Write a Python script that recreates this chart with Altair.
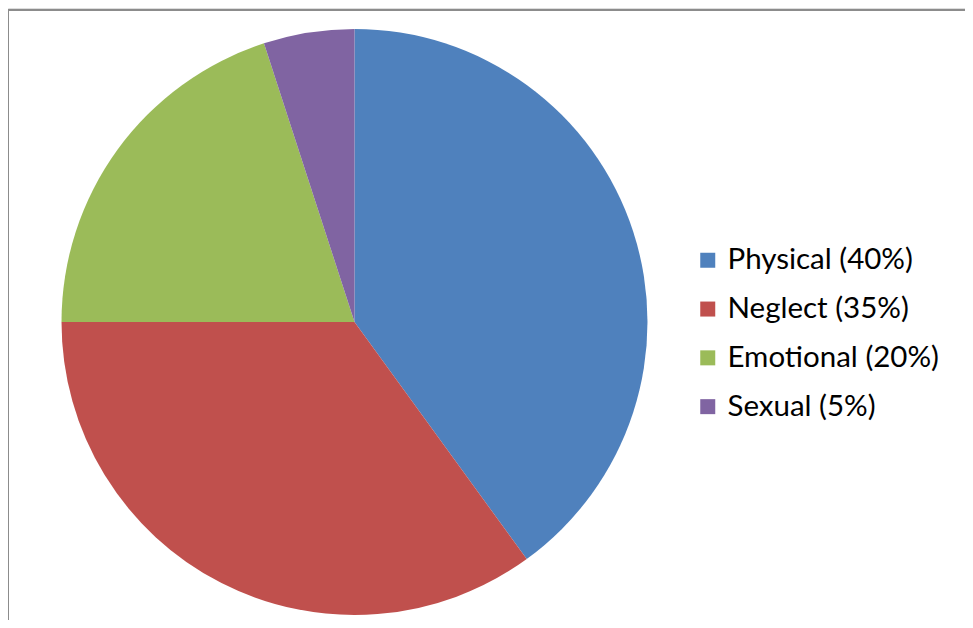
import altair as alt
import pandas as pd

categories = ["Physical (40%)", "Neglect (35%)", "Emotional (20%)", "Sexual (5%)"]
values = [40, 35, 20, 5]
colors = ["#4F81BD", "#C0504D", "#9BBB59", "#8064A2"]

df = pd.DataFrame({"cat": categories, "val": values, "ord": list(range(len(values)))})

W, H = 957, 612

pie = alt.Chart(df).mark_arc(radius=293, stroke=None).encode(
    theta=alt.Theta("val:Q", stack=True),
    order=alt.Order("ord:Q"),
    color=alt.Color(
        "cat:N",
        sort=categories,
        scale=alt.Scale(domain=categories, range=colors),
        legend=alt.Legend(
            title=None,
            orient="none",
            legendX=685,
            legendY=237.5,
            symbolType="square",
            symbolSize=225,
            symbolStrokeWidth=0,
            labelFontSize=29.5,
            labelFont="Lato",
            labelColor="#000000",
            labelOffset=5,
            rowPadding=17.8,
            labelLimit=400,
        ),
    ),
    x=alt.value(346.5),
    y=alt.value(314),
)

border = alt.Data(values=[{"a": 1}])
top = alt.Chart(border).mark_rule(color="#8c8c8c", strokeWidth=2).encode(
    x=alt.value(-3), x2=alt.value(W + 20), y=alt.value(2)
)
left = alt.Chart(border).mark_rule(color="#8c8c8c", strokeWidth=2).encode(
    x=alt.value(0), y=alt.value(1), y2=alt.value(H + 20)
)

chart = alt.layer(pie, top, left).properties(
    width=W, height=H,
    autosize=alt.AutoSizeParams(type="none"),
    padding=0,
).configure_view(stroke=None).configure(background="white")

chart.save("out.html", embed_options={"renderer": "svg", "actions": False})
